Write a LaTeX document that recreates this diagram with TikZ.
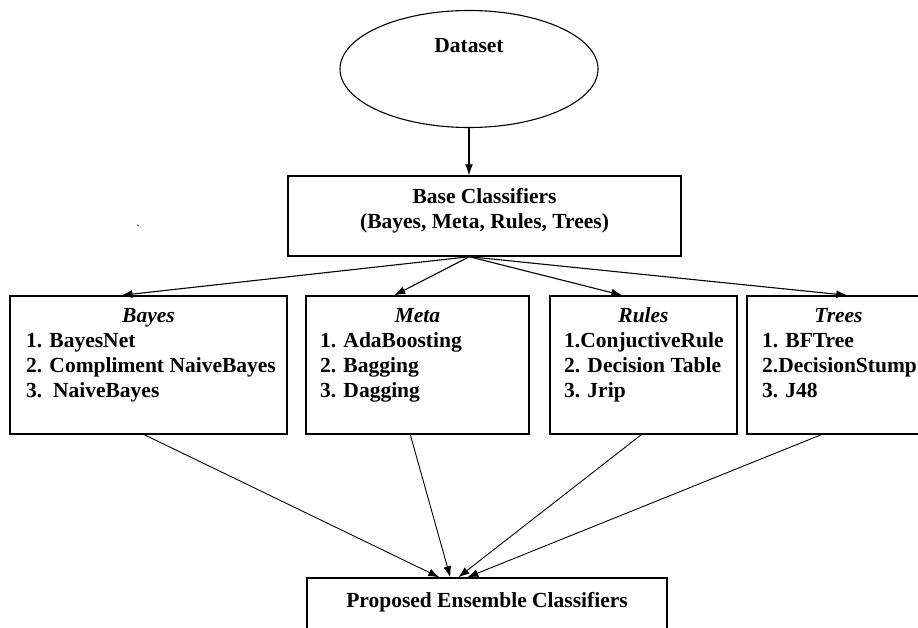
\documentclass[tikz,border=0pt]{standalone}
\usepackage{fontspec}
\setmainfont{Liberation Serif}
\usetikzlibrary{arrows.meta,calc,shapes.geometric}
\begin{document}
\begin{tikzpicture}[x=1pt,y=-1pt,
  box/.style={draw,line width=1.4pt,rectangle,inner sep=0pt},
  txt/.style={inner sep=0pt,font=\fontsize{21.5}{25}\selectfont\bfseries},
  ttl/.style={inner sep=0pt,font=\fontsize{21.5}{25}\selectfont\bfseries\itshape},
  arr/.style={line width=1.1pt,-{Latex[length=11pt,width=8pt]}},
  arrb/.style={line width=0.9pt,-{Latex[length=11pt,width=8pt]}}]
\clip (0,0) rectangle (918,628);
% shapes
\node[ellipse,draw,line width=1.1pt,inner sep=0pt,minimum width=258pt,minimum height=117pt] (ds) at (469,69) {};
\node[box,minimum width=393pt,minimum height=80pt] (base) at (484.5,216) {};
\node[box,minimum width=277pt,minimum height=138pt] (bayes) at (148.5,365) {};
\node[box,minimum width=223pt,minimum height=138pt] (meta) at (417.5,365) {};
\node[box,minimum width=187pt,minimum height=138pt] (rules) at (643.5,365) {};
\node[box,minimum width=183pt,minimum height=138pt] (trees) at (838.5,365) {};
\node[box,minimum width=360pt,minimum height=72pt] (prop) at (487,614) {};
% texts
\node[txt,anchor=base] (dst) at (469,53) {Dataset};
\node[txt,anchor=base] (bt1) at (484.5,204) {Base Classifiers};
\node[txt,anchor=base] (bt2) at (484.5,229) {(Bayes, Meta, Rules, Trees)};
\node[txt,anchor=base] (pt) at (487,607) {Proposed Ensemble Classifiers};
\node[inner sep=0pt,font=\fontsize{12}{12}\selectfont] (tick) at (138,229) {\textasciigrave};
% Bayes
\node[ttl,anchor=base] (bayT) at (148.5,323) {Bayes};
\node[txt,anchor=base west] (bay1) at (26,347) {1. BayesNet};
\node[txt,anchor=base west] (bay2) at (26,372) {2. Compliment NaiveBayes};
\node[txt,anchor=base west] (bay3) at (26,397) {3.\hspace{0.5em}NaiveBayes};
% Meta
\node[ttl,anchor=base] (metT) at (417.5,323) {Meta};
\node[txt,anchor=base west] (met1) at (320,347) {1. AdaBoosting};
\node[txt,anchor=base west] (met2) at (320,372) {2. Bagging};
\node[txt,anchor=base west] (met3) at (320,397) {3. Dagging};
% Rules
\node[ttl,anchor=base] (rulT) at (643.5,323) {Rules};
\node[txt,anchor=base west] (rul1) at (564,347) {1.ConjuctiveRule};
\node[txt,anchor=base west] (rul2) at (564,372) {2. Decision Table};
\node[txt,anchor=base west] (rul3) at (564,397) {3. Jrip};
% Trees
\node[ttl,anchor=base] (treT) at (838.5,323) {Trees};
\node[txt,anchor=base west] (tre1) at (762,347) {1. BFTree};
\node[txt,anchor=base west] (tre2) at (762,372) {2.DecisionStump};
\node[txt,anchor=base west] (tre3) at (762,397) {3. J48};
% connectors
\draw[arr] (ds.south) -- (base.north -| ds.south);
\coordinate (bs) at ($(base.south west)+(182,0)$);
\draw[arr] (bs) -- ($(bayes.north west)+(112,0)$);
\draw[arr] (bs) -- ($(meta.north west)+(89,0)$);
\draw[arr] (bs) -- ($(rules.north west)+(73,0)$);
\draw[arr] (bs) -- ($(trees.north west)+(101,0)$);
\draw[arrb] ($(bayes.south west)+(135,0)$) -- ($(prop.north west)+(133,0)$);
\draw[arrb] ($(meta.south west)+(105,0)$) -- ($(prop.north west)+(144,0)$);
\draw[arrb] ($(rules.south west)+(92,0)$) -- ($(prop.north west)+(152,0)$);
\draw[arrb] ($(trees.south west)+(75,0)$) -- ($(prop.north west)+(161,0)$);
\end{tikzpicture}
\end{document}
